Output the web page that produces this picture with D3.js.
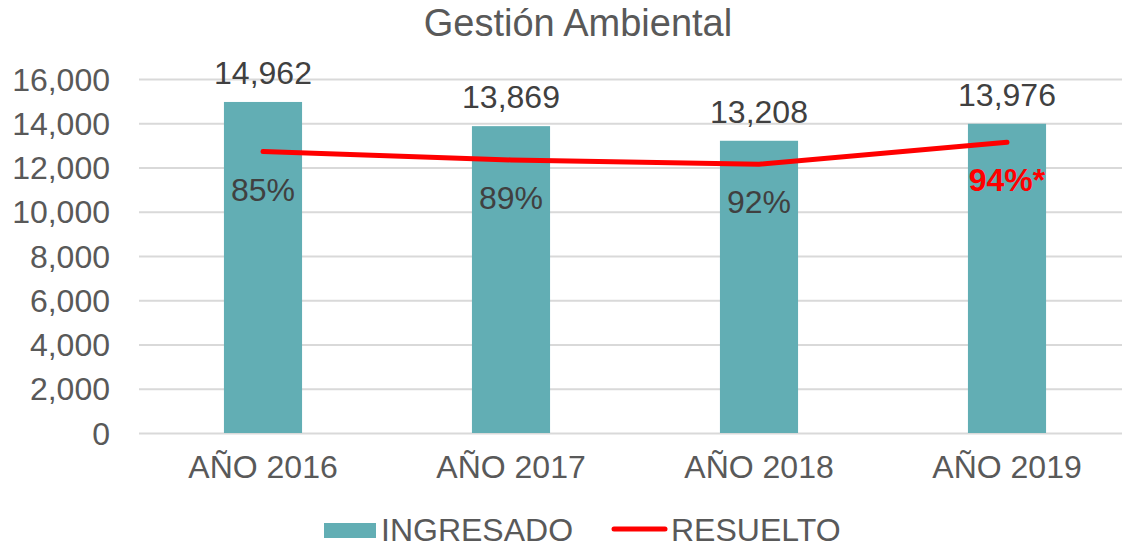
<!DOCTYPE html>
<html>
<head>
<meta charset="utf-8">
<script src="https://cdn.jsdelivr.net/npm/d3@7"></script>
<style>
	body { margin: 0; background: #fff; }
	text { font-family: "Liberation Sans", Arial, sans-serif; }
</style>
</head>
<body>
<svg width="1122" height="548"></svg>
<script>
var years = ["AÑO 2016", "AÑO 2017", "AÑO 2018", "AÑO 2019"];
var ingresado = [14962, 13869, 13208, 13976];
var resuelto = [12718, 12343, 12151, 13137];
var percentLabels = ["85%", "89%", "92%", "94%*"];
var yTicks = [0, 2000, 4000, 6000, 8000, 10000, 12000, 14000, 16000];

var svg = d3.select("svg");
var gray = "#595959";

var x = d3.scaleBand()
	.domain(years)
	.range([139, 1131])
	.paddingInner(0.685)
	.paddingOuter(0.3425);

var y = d3.scaleLinear()
	.domain([0, 16000])
	.range([433, 79]);

// title
svg.append("text")
	.attr("x", 578)
	.attr("y", 36)
	.attr("text-anchor", "middle")
	.attr("fill", gray)
	.style("font-size", "38px")
	.text("Gestión Ambiental");

// gridlines + y labels
var yAxis = svg.append("g")
	.attr("transform", "translate(139,0)")
	.call(d3.axisLeft(y)
		.tickValues(yTicks)
		.tickSize(-992)
		.tickPadding(29)
		.tickFormat(d3.format(",")));
yAxis.select(".domain").remove();
yAxis.selectAll("line").attr("stroke", "#d9d9d9").attr("stroke-width", 2);
yAxis.selectAll("text")
	.attr("fill", gray)
	.attr("dy", "0.35em")
	.style("font-size", "32px")
	.style("font-family", "Liberation Sans, Arial, sans-serif");

// x labels
var xAxis = svg.append("g")
	.attr("transform", "translate(0,433)")
	.call(d3.axisBottom(x).tickSize(0).tickPadding(22));
xAxis.select(".domain").remove();
xAxis.selectAll("text")
	.attr("fill", gray)
	.attr("dy", "0.71em")
	.style("font-size", "32px")
	.style("font-family", "Liberation Sans, Arial, sans-serif");

// bars
svg.selectAll(".bar")
	.data(ingresado)
	.enter()
	.append("rect")
	.attr("class", "bar")
	.attr("x", function (d, i) { return x(years[i]); })
	.attr("y", function (d) { return y(d); })
	.attr("width", x.bandwidth())
	.attr("height", function (d) { return y(0) - y(d); })
	.attr("fill", "#62aeb4");

// bar value labels
svg.selectAll(".barlabel")
	.data(ingresado)
	.enter()
	.append("text")
	.attr("class", "barlabel")
	.attr("x", function (d, i) { return x(years[i]) + x.bandwidth() / 2; })
	.attr("y", function (d) { return y(d) - 18; })
	.attr("text-anchor", "middle")
	.attr("fill", "#404040")
	.style("font-size", "32px")
	.text(function (d) { return d3.format(",")(d); });

// line
var line = d3.line()
	.x(function (d, i) { return x(years[i]) + x.bandwidth() / 2; })
	.y(function (d) { return y(d); });

svg.append("path")
	.datum(resuelto)
	.attr("d", line)
	.attr("fill", "none")
	.attr("stroke", "#ff0000")
	.attr("stroke-width", 5)
	.attr("stroke-linecap", "round");

// percent labels
svg.selectAll(".pct")
	.data(resuelto)
	.enter()
	.append("text")
	.attr("class", "pct")
	.attr("x", function (d, i) { return x(years[i]) + x.bandwidth() / 2; })
	.attr("y", function (d) { return y(d) + 49; })
	.attr("text-anchor", "middle")
	.attr("fill", function (d, i) { return i === 3 ? "#ff0000" : "#404040"; })
	.style("font-weight", function (d, i) { return i === 3 ? "bold" : "normal"; })
	.style("font-size", "32px")
	.text(function (d, i) { return percentLabels[i]; });

// legend
var legend = svg.append("g");
legend.append("rect")
	.attr("x", 324).attr("y", 523)
	.attr("width", 52).attr("height", 15)
	.attr("fill", "#62aeb4");
legend.append("text")
	.attr("x", 381).attr("y", 541)
	.attr("fill", gray)
	.style("font-size", "32px")
	.text("INGRESADO");
legend.append("line")
	.attr("x1", 614).attr("x2", 665)
	.attr("y1", 529).attr("y2", 529)
	.attr("stroke", "#ff0000")
	.attr("stroke-width", 5)
	.attr("stroke-linecap", "round");
legend.append("text")
	.attr("x", 671).attr("y", 541)
	.attr("fill", gray)
	.style("font-size", "32px")
	.text("RESUELTO");
</script>
</body>
</html>
